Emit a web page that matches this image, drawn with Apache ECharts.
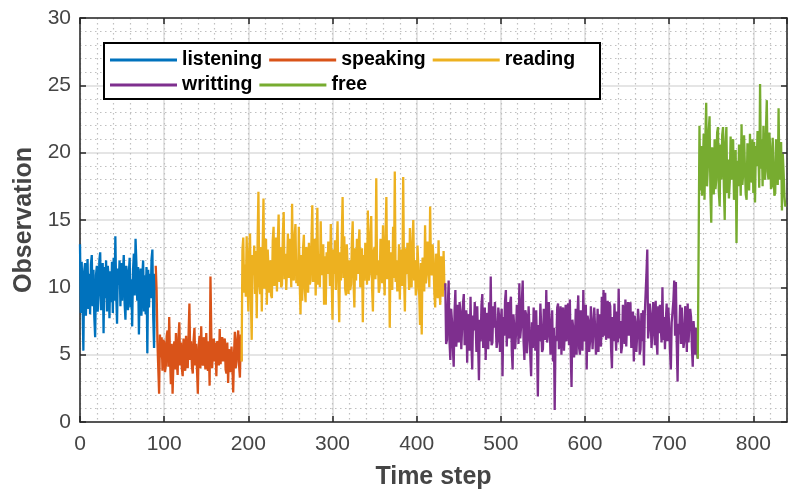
<!DOCTYPE html>
<html>
<head>
<meta charset="utf-8">
<script src="https://cdn.jsdelivr.net/npm/echarts@6/dist/echarts.min.js"></script>
<style>
html,body{margin:0;padding:0;background:#fff;}
#chart{width:788px;height:493px;}
</style>
</head>
<body>
<div id="chart"></div>
<script>
// ---- data: one value per time step ----
const STEP = 1;
const seriesNames = ['listening', 'speaking', 'reading', 'writting', 'free'];
const seriesColors = ['#0072BD', '#D95319', '#EDB120', '#7E2F8E', '#77AC30'];
const listeningStart = 0;
const listening = [13.2,8.1,11.9,9.0,5.3,11.2,11.8,7.9,10.6,12.1,8.4,11.0,8.0,11.7,12.4,8.6,11.3,7.8,6.3,10.9,
11.6,8.2,9.4,12.0,12.6,8.3,10.7,11.8,6.6,11.5,9.2,12.0,8.2,11.6,10.8,7.7,11.2,8.9,11.9,8.1,
12.2,9.0,13.8,9.6,7.3,11.4,10.2,12.0,8.6,11.8,9.0,11.1,12.4,8.8,7.6,11.6,10.9,8.3,11.0,12.2,
8.5,10.6,7.1,11.3,12.5,9.4,13.6,11.8,9.0,11.5,6.5,10.4,11.4,7.9,10.8,12.0,8.2,10.9,8.0,11.5,
5.1,11.3,8.5,11.0,9.2,12.1,12.8,7.8,5.5,11.0,9.8];
const speakingStart = 90;
const speaking = [11.6,9.8,6.0,4.0,2.1,6.5,4.8,6.3,3.8,6.1,5.9,3.7,4.2,6.4,6.8,4.1,7.8,4.6,2.8,5.8,
2.1,4.4,6.0,3.9,6.6,4.5,3.5,6.3,7.4,4.2,5.9,4.0,3.4,6.2,5.2,3.8,6.4,4.3,4.0,6.5,
8.8,4.6,6.0,4.1,3.6,6.1,7.0,4.2,5.8,3.9,2.1,5.6,6.4,4.0,7.1,4.5,4.2,6.3,5.0,3.9,
6.6,4.6,3.8,6.0,2.7,10.8,6.5,4.0,5.5,6.2,4.5,5.9,3.4,6.0,5.8,4.2,6.9,4.3,4.4,6.3,
4.5,5.8,6.2,3.9,3.6,5.9,2.9,5.4,5.0,3.7,5.6,4.3,2.2,5.0,6.7,4.0,4.5,6.2,6.8,4.2,
3.3,6.5,4.5];
const readingStart = 192;
const reading = [4.5,12.8,13.7,9.6,11.7,9.3,13.8,10.4,8.2,12.6,14.0,9.2,6.1,12.4,10.9,13.1,9.5,12.7,7.7,13.4,
17.1,10.2,9.5,13.0,8.2,12.9,16.6,9.9,10.0,13.6,8.7,12.8,11.3,9.6,12.0,9.4,9.2,13.5,14.5,10.1,
11.0,13.7,9.7,13.3,15.4,10.4,13.0,10.0,10.2,13.9,15.6,10.6,12.5,9.8,11.5,14.0,10.7,13.6,12.2,10.0,
16.2,10.8,10.5,13.8,14.7,10.3,12.0,10.1,14.5,10.5,8.0,12.4,9.0,12.9,13.9,9.9,8.9,13.0,12.2,9.6,
13.3,10.2,10.5,13.5,16.1,10.4,11.5,13.6,9.4,12.7,15.9,10.2,12.5,10.0,14.9,10.9,10.8,13.2,8.7,12.3,
8.7,12.6,11.0,13.4,12.5,10.1,14.7,10.6,7.6,12.8,11.0,13.5,9.8,13.0,14.9,10.3,7.4,12.6,10.5,13.7,
16.7,10.7,13.8,9.9,9.4,13.2,11.5,9.5,12.0,9.8,10.2,13.4,14.9,10.4,8.5,12.9,10.5,13.6,11.0,13.1,
14.3,10.0,11.5,12.9,7.4,12.4,10.5,13.3,13.0,10.2,15.7,10.5,11.0,14.0,15.3,10.0,8.2,12.7,13.0,10.6,
18.1,10.9,12.0,9.6,10.0,13.6,13.2,10.3,14.6,10.9,9.4,13.8,16.7,10.6,11.5,13.5,7.0,12.6,12.0,9.8,
14.5,10.7,18.6,10.4,12.0,9.7,10.3,13.2,9.1,12.8,12.0,10.1,18.2,10.8,8.2,12.9,11.0,13.3,11.5,9.8,
14.4,10.2,10.0,13.4,15.0,10.5,12.0,9.4,9.9,13.1,11.5,9.5,7.2,11.8,6.5,12.2,12.0,9.7,14.6,10.3,
11.0,13.4,12.5,10.0,16.0,11.3,10.9,13.2,12.0,9.6,8.5,12.5,11.0,9.2,13.5,10.1,8.7,12.3,12.0,9.3,
12.7,9.8,10.3];
const writtingStart = 434;
const writting = [10.3,5.8,6.1,8.6,10.5,6.0,4.6,8.4,7.5,5.5,4.1,8.2,9.8,5.6,6.5,8.7,5.9,8.9,8.2,5.4,
7.0,8.8,9.5,5.7,6.5,8.3,4.4,8.0,7.8,5.3,9.3,5.9,3.9,7.9,6.8,8.9,7.5,5.2,8.6,5.8,
3.1,7.6,6.0,8.7,9.5,5.5,6.5,8.5,4.6,8.1,7.2,5.4,8.9,6.0,10.8,5.7,5.9,8.6,7.0,8.9,
9.0,5.5,6.0,8.5,7.8,5.2,7.5,8.4,3.4,7.8,6.4,9.0,9.8,5.6,7.5,8.9,6.2,8.8,9.3,5.3,
3.9,8.0,7.0,5.4,6.5,8.7,8.0,5.8,10.3,6.2,7.0,9.1,10.5,6.0,4.6,8.3,8.0,5.1,6.4,8.6,
7.0,4.9,3.4,7.4,5.5,8.5,7.2,5.3,8.3,5.6,1.9,7.2,6.0,8.8,7.0,5.2,5.4,8.4,8.5,6.1,
9.8,5.9,6.5,8.9,7.4,5.0,6.6,8.3,4.5,7.0,0.9,6.4,6.0,8.5,8.8,5.4,7.0,8.6,5.0,8.2,
8.5,5.3,6.6,8.7,6.0,8.5,8.8,5.7,9.1,5.2,2.6,7.6,7.0,4.8,5.8,8.4,5.0,8.0,9.4,5.5,
5.0,8.3,7.0,5.3,9.8,6.0,6.2,8.7,3.9,7.9,7.5,5.2,6.0,8.6,7.3,5.4,5.5,8.5,7.0,5.0,
6.0,8.4,5.2,8.0,8.0,5.6,9.3,6.3,9.8,6.4,9.6,6.1,7.0,9.0,6.2,8.9,8.6,5.4,4.0,7.8,
6.0,8.8,7.0,5.3,8.2,5.9,9.9,6.2,7.5,5.1,5.6,8.7,7.2,5.8,9.1,5.6,7.5,8.9,6.4,8.6,
8.9,5.5,6.0,8.2,4.5,7.9,7.3,5.2,6.5,8.4,7.5,5.0,5.4,8.1,6.0,8.3,4.2,8.0,9.5,11.0,
12.8,6.2,7.0,8.8,8.0,5.5,6.5,8.9,8.0,5.7,9.0,6.0,5.0,8.6,6.6,8.7,7.0,5.9,10.0,6.1,
7.8,5.4,7.5,8.8,6.0,8.5,7.2,5.3,3.9,7.4,7.5,9.0,10.5,6.4,10.4,5.8,3.0,7.3,6.5,8.7,
5.8,8.5,8.6,5.5,6.0,8.6,7.5,5.2,8.8,5.9,6.0,8.4,7.8,5.6,4.1,7.5,6.5,5.0,7.0,5.2,
4.7];
const freeStart = 734;
const free = [4.7,13.0,22.0,17.2,20.5,16.8,18.5,21.4,16.5,21.0,23.7,17.5,19.0,21.6,22.7,17.0,14.8,20.4,19.5,16.9,
21.0,17.3,18.0,21.5,21.9,17.1,16.0,20.6,18.0,21.3,21.9,17.4,15.0,20.8,21.9,17.0,19.5,16.6,17.8,21.2,
18.0,20.5,21.0,16.5,17.0,20.2,13.3,19.4,17.5,20.6,19.5,16.8,22.1,17.6,18.5,21.3,19.0,16.9,16.5,20.7,
20.0,17.2,21.4,17.8,18.0,21.0,17.0,20.8,16.3,20.5,19.0,21.6,20.0,17.4,25.1,18.8,21.0,17.5,22.0,18.2,
18.0,21.8,23.9,18.6,18.0,21.5,20.5,17.3,17.5,21.1,19.0,16.8,17.0,21.0,20.5,17.6,23.3,18.0,19.0,20.8,
15.7,19.9,18.5,16.7,16.0];
const xTickLabels = ['0','100','200','300','400','500','600','700','800'];
const yTickLabels = ['0','5','10','15','20','25','30'];
const xMin = 0, xMax = 840, xInterval = 100, xMinorInterval = 20;
const yMin = 0, yMax = 30, yInterval = 5;

const allValues = [listening, speaking, reading, writting, free];
const allStarts = [listeningStart, speakingStart, readingStart, writtingStart, freeStart];

const chart = echarts.init(document.getElementById('chart'), null, {renderer: 'canvas'});
const FONT = "'Liberation Sans', Arial, sans-serif";
const axisColor = '#262626';
const labelColor = '#454545';

const series = seriesNames.map((name, k) => ({
  name: name,
  type: 'line',
  xAxisIndex: 0,
  yAxisIndex: 0,
  data: allValues[k].map((v, i) => [allStarts[k] + i * STEP, v]),
  showSymbol: false,
  symbol: 'none',
  sampling: null,
  lineStyle: {width: 2.3, color: seriesColors[k]},
  itemStyle: {color: seriesColors[k]},
  z: 2 + k,
  animation: false
}));

const legendCommon = {
  orient: 'horizontal',
  itemWidth: 67,
  itemHeight: 14,
  itemGap: 7,
  padding: 0,
  selectedMode: false,
  icon: 'path://M0,5.5 L67,5.5 L67,8.5 L0,8.5 Z',
  textStyle: {fontFamily: FONT, fontSize: 19.5, fontWeight: 'bold', color: '#000', width: 90},
  z: 6
};

const option = {
  animation: false,
  backgroundColor: '#fff',
  grid: {left: 80, right: 1, top: 18, bottom: 71, containLabel: false, outerBoundsMode: 'none'},
  legend: [
    Object.assign({}, legendCommon, {left: 110, top: 50, data: ['listening', 'speaking', 'reading']}),
    Object.assign({}, legendCommon, {left: 110, top: 75, data: ['writting', 'free']})
  ],
  graphic: [{
    type: 'rect', z: 5, left: 103, top: 42,
    shape: {width: 496, height: 56},
    style: {fill: '#fff', stroke: '#000', lineWidth: 2}
  }],
  xAxis: [
    {
      type: 'value', position: 'bottom', min: xMin, max: xMax, interval: xInterval,
      name: 'Time step', nameLocation: 'middle', nameGap: 43,
      nameTextStyle: {fontFamily: FONT, fontSize: 25, fontWeight: 'bold', color: labelColor},
      axisLine: {show: true, onZero: false, lineStyle: {color: axisColor, width: 1.5}},
      axisTick: {show: true, inside: true, length: 6, lineStyle: {color: axisColor, width: 1.5}},
      axisLabel: {show: true, margin: 12, showMaxLabel: false, fontFamily: FONT, fontSize: 21, color: labelColor,
        formatter: v => xTickLabels[Math.round(v / xInterval)] || ''},
      splitLine: {show: true, lineStyle: {color: '#dcdcdc', width: 1.5}}
    },
    {
      type: 'value', position: 'top', min: xMin, max: xMax, interval: xInterval,
      axisLine: {show: true, onZero: false, lineStyle: {color: axisColor, width: 1.5}},
      axisTick: {show: true, inside: true, length: 6, lineStyle: {color: axisColor, width: 1.5}},
      axisLabel: {show: false},
      splitLine: {show: false}
    },
    {
      type: 'value', position: 'bottom', min: xMin, max: xMax, interval: xMinorInterval,
      axisLine: {show: false}, axisTick: {show: false}, axisLabel: {show: false},
      splitLine: {show: true, lineStyle: {color: '#c0c0c0', width: 1.2, type: [1.5, 3.5]}}
    }
  ],
  yAxis: [
    {
      type: 'value', position: 'left', min: yMin, max: yMax, interval: yInterval,
      name: 'Observation', nameLocation: 'middle', nameGap: 42,
      nameTextStyle: {fontFamily: FONT, fontSize: 25, fontWeight: 'bold', color: labelColor},
      axisLine: {show: true, onZero: false, lineStyle: {color: axisColor, width: 1.5}},
      axisTick: {show: true, inside: true, length: 6, lineStyle: {color: axisColor, width: 1.5}},
      axisLabel: {show: true, margin: 9, fontFamily: FONT, fontSize: 21, color: labelColor,
        formatter: v => yTickLabels[Math.round(v / yInterval)] || ''},
      splitLine: {show: true, lineStyle: {color: '#dcdcdc', width: 1.5}},
      minorTick: {show: false, splitNumber: 5},
      minorSplitLine: {show: true, lineStyle: {color: '#c0c0c0', width: 1.2, type: [1.5, 3.5]}}
    },
    {
      type: 'value', position: 'right', min: yMin, max: yMax, interval: yInterval,
      axisLine: {show: true, onZero: false, lineStyle: {color: axisColor, width: 1.5}},
      axisTick: {show: true, inside: true, length: 6, lineStyle: {color: axisColor, width: 1.5}},
      axisLabel: {show: false},
      splitLine: {show: false}
    }
  ],
  series: series
};
chart.setOption(option);
</script>
</body>
</html>
